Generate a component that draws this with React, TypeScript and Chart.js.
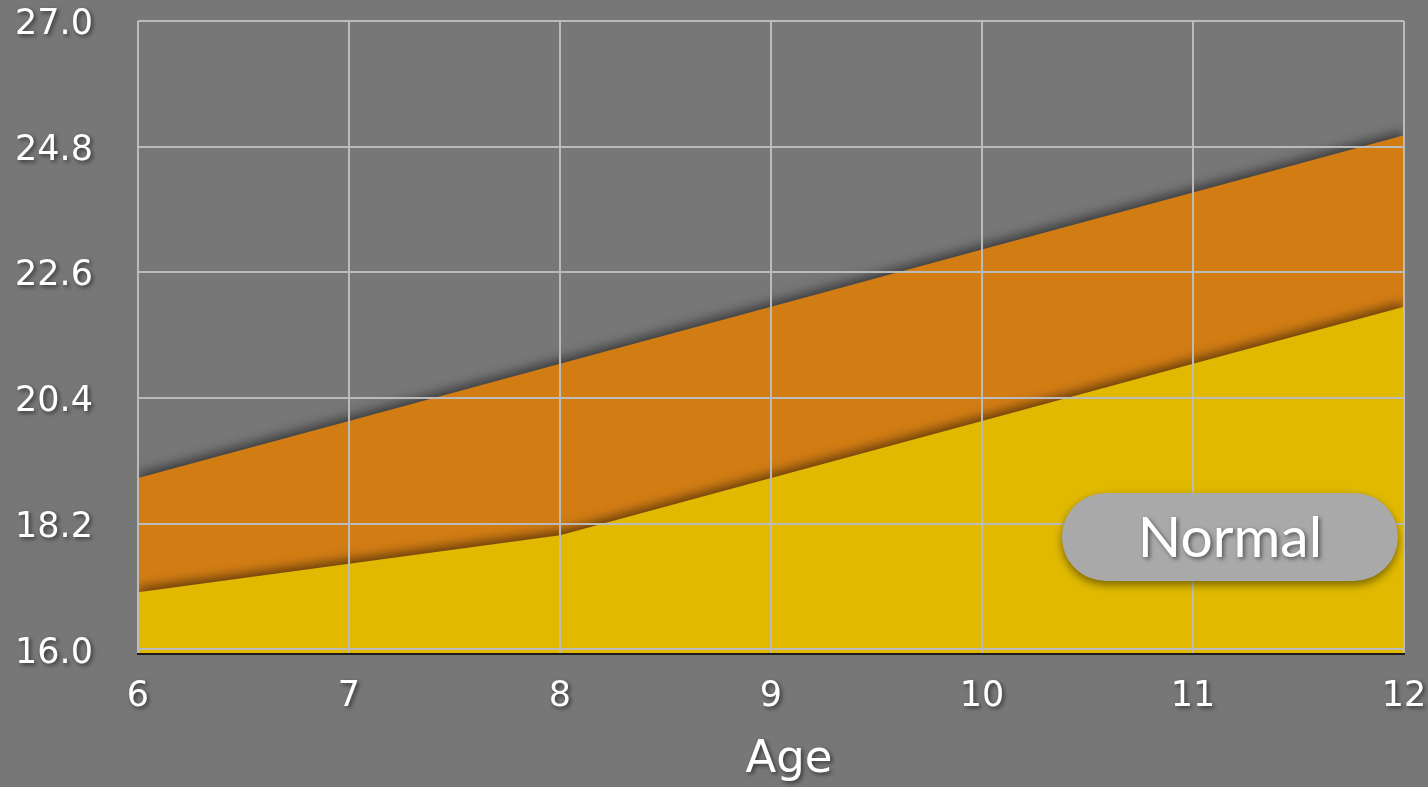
import React, { useEffect, useRef } from "react";
import { Chart, registerables } from "chart.js";

Chart.register(...registerables);

const ages = ["6", "7", "8", "9", "10", "11", "12"];
const upperValues = [19.0, 20.0, 21.0, 22.0, 23.0, 24.0, 25.0];
const lowerValues = [17.0, 17.5, 18.0, 19.0, 20.0, 21.0, 22.0];
const yTicks = [16.0, 18.2, 20.4, 22.6, 24.8, 27.0];
const yMin = 15.92;
const yMax = 27.0;
const xTitle = "Age";
const zoneLabel = "Normal";
const zoneLabelPos = { x: 5.175, y: 17.97 };

const BG = "#777777";
const ORANGE = "#D27D14";
const YELLOW = "#E0B900";
const GRID = "#BBBBBB";

export default function App() {
  const ref = useRef<HTMLCanvasElement | null>(null);

  useEffect(() => {
    if (!ref.current) return;
    const shadowPlugin = {
      id: "shadows",
      afterLayout(chart: any) {
        if (chart.titleBlock) {
          chart.titleBlock.left += 164;
        }
      },
      beforeDraw(chart: any) {
        const ctx = chart.ctx;
        ctx.save();
        ctx.shadowColor = "rgba(0,0,0,0.55)";
        ctx.shadowBlur = 4;
        ctx.shadowOffsetX = 2;
        ctx.shadowOffsetY = 2;
      },
      beforeDatasetsDraw(chart: any) {
        const ctx = chart.ctx;
        ctx.restore();
        ctx.save();
        ctx.shadowColor = "rgba(0,0,0,0.55)";
        ctx.shadowBlur = 12;
        ctx.shadowOffsetX = 0;
        ctx.shadowOffsetY = -4;
      },
      afterDatasetsDraw(chart: any) {
        chart.ctx.restore();
      },
      afterDraw(chart: any) {
        const ctx = chart.ctx;
        const xs = chart.scales.x;
        const ys = chart.scales.y;
        const cx = xs.getPixelForValue(zoneLabelPos.x);
        const cy = ys.getPixelForValue(zoneLabelPos.y);
        const w = 336;
        const h = 88;
        const r = 44;
        ctx.save();
        ctx.shadowColor = "rgba(0,0,0,0.45)";
        ctx.shadowBlur = 8;
        ctx.shadowOffsetX = 0;
        ctx.shadowOffsetY = 4;
        ctx.fillStyle = "#A9A9A9";
        ctx.beginPath();
        ctx.roundRect(cx - w / 2, cy - h / 2, w, h, r);
        ctx.fill();
        ctx.shadowColor = "rgba(0,0,0,0.5)";
        ctx.shadowBlur = 4;
        ctx.shadowOffsetX = 2;
        ctx.shadowOffsetY = 2;
        ctx.fillStyle = "#FFFFFF";
        ctx.font = "57px Lato";
        ctx.textAlign = "center";
        ctx.textBaseline = "middle";
        ctx.fillText(zoneLabel, cx, cy + 2);
        ctx.restore();
      },
    };

    const chart = new Chart(ref.current, {
      type: "line",
      data: {
        labels: ages,
        datasets: [
          {
            label: "lower",
            data: lowerValues,
            backgroundColor: YELLOW,
            borderColor: "rgba(0,0,0,0)",
            borderWidth: 0,
            pointRadius: 0,
            fill: "start",
          },
          {
            label: "upper",
            data: upperValues,
            backgroundColor: ORANGE,
            borderColor: "rgba(0,0,0,0)",
            borderWidth: 0,
            pointRadius: 0,
            fill: "start",
          },
        ],
      },
      options: {
        animation: false,
        responsive: true,
        maintainAspectRatio: false,
        layout: { padding: { left: 10, right: 24, top: 21, bottom: 4 } },
        plugins: {
          legend: { display: false },
          tooltip: { enabled: false },
          title: {
            display: true,
            text: xTitle,
            position: "bottom",
            color: "#FFFFFF",
            font: { family: "DejaVu Sans", size: 45, weight: "normal", lineHeight: 1 },
            padding: { top: 26, bottom: 0 },
          },
        },
        scales: {
          x: {
            grid: { color: GRID, lineWidth: 2, drawTicks: false, z: 1 },
            border: { display: true, color: "#1a1a1a", width: 2, z: 1 },
            ticks: {
              color: "#FFFFFF",
              font: { family: "DejaVu Sans", size: 35 },
              padding: 22,
              maxRotation: 0,
            },
            afterFit(scale: any) {
              scale.paddingLeft = 0;
              scale.paddingRight = 0;
              scale.height = 58;
            },
          },
          y: {
            min: yMin,
            max: yMax,
            afterBuildTicks(scale: any) {
              scale.ticks = yTicks.map((v) => ({ value: v }));
            },
            grid: { color: GRID, lineWidth: 2, drawTicks: false, z: 1 },
            border: { display: false, z: 1 },
            ticks: {
              color: "#FFFFFF",
              font: { family: "DejaVu Sans", size: 35 },
              padding: 45,
              labelOffset: 4,
              callback: (v: any) => Number(v).toFixed(1),
            },
            afterFit(scale: any) {
              scale.paddingTop = 0;
              scale.paddingBottom = 0;
              scale.width = 128;
            },
          },
        },
      },
      plugins: [shadowPlugin],
    });
    return () => chart.destroy();
  }, []);

  return (
    <div style={{ position: "fixed", left: 0, top: 0, width: 1428, height: 787, background: BG }}>
      <canvas ref={ref} />
    </div>
  );
}
